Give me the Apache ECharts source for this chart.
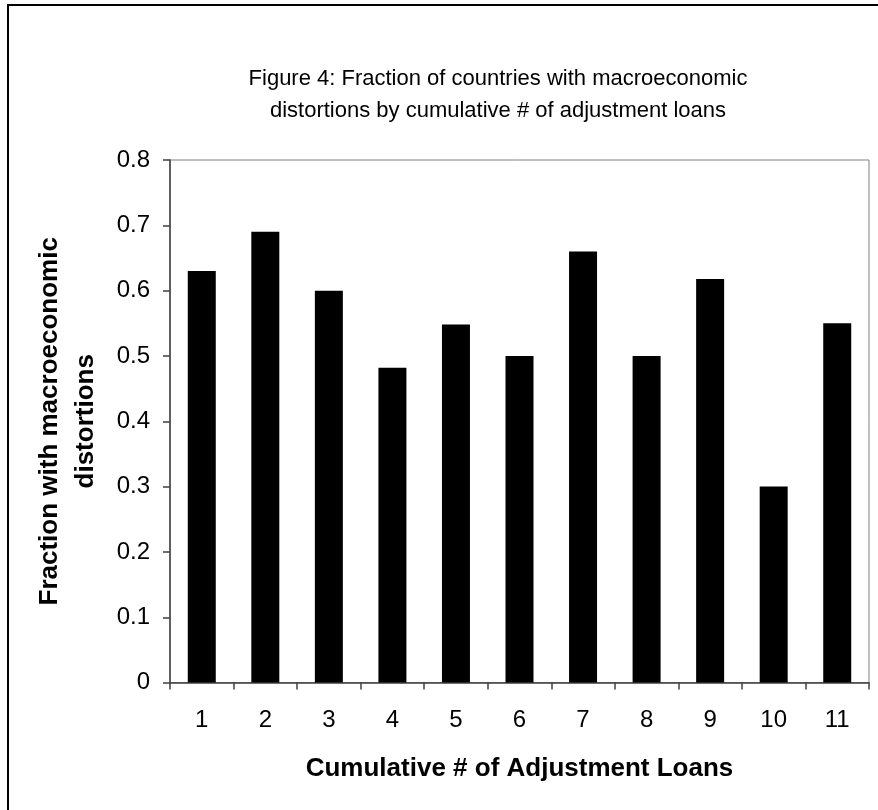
<!DOCTYPE html>
<html>
<head>
<meta charset="utf-8">
<script src="https://cdn.jsdelivr.net/npm/echarts@6/dist/echarts.min.js"></script>
<style>
html,body{margin:0;padding:0;background:#fff;}
#chart{width:878px;height:810px;}
</style>
</head>
<body>
<div id="chart"></div>
<script>
const categories = ['1','2','3','4','5','6','7','8','9','10','11'];
const fractionValues = [0.63, 0.69, 0.60, 0.482, 0.548, 0.50, 0.66, 0.50, 0.618, 0.30, 0.55];
const yTicks = [0, 0.1, 0.2, 0.3, 0.4, 0.5, 0.6, 0.7, 0.8];
const titleText = 'Figure 4: Fraction of countries with macroeconomic\ndistortions by cumulative # of adjustment loans';
const xName = 'Cumulative # of Adjustment Loans';
const yName = 'Fraction with macroeconomic\ndistortions';

const FONT = '"Liberation Sans", Arial, sans-serif';
const chart = echarts.init(document.getElementById('chart'), null, {renderer: 'canvas'});
chart.setOption({
  backgroundColor: '#fff',
  animation: false,
  title: {
    text: titleText,
    left: 493,
    top: 58,
    textAlign: 'center',
    textStyle: {fontFamily: FONT, fontSize: 22, fontWeight: 'normal', color: '#000', lineHeight: 32}
  },
  graphic: [{
    type: 'rect',
    shape: {x: 8, y: 5, width: 900, height: 900},
    style: {fill: 'none', stroke: '#000', lineWidth: 2},
    silent: true
  }],
  grid: {
    left: 170, top: 160, width: 699, height: 522.6,
    show: true, borderColor: '#808080', borderWidth: 1, backgroundColor: 'transparent'
  },
  xAxis: {
    type: 'category',
    data: categories,
    boundaryGap: true,
    name: xName,
    nameLocation: 'middle',
    nameGap: 73,
    nameTextStyle: {fontFamily: FONT, fontSize: 26, fontWeight: 'bold', color: '#000'},
    axisLine: {show: true, lineStyle: {color: '#404040', width: 1.5}},
    axisTick: {show: true, inside: false, length: 7, lineStyle: {color: '#404040', width: 1.5}},
    axisLabel: {fontFamily: FONT, fontSize: 24, color: '#000', margin: 26},
    splitLine: {show: false}
  },
  yAxis: {
    type: 'value',
    min: 0, max: 0.8, interval: 0.1,
    name: yName,
    nameLocation: 'middle',
    nameRotate: 90,
    nameGap: 66,
    nameTextStyle: {fontFamily: FONT, fontSize: 26, fontWeight: 'bold', color: '#000', lineHeight: 36},
    axisLine: {show: true, lineStyle: {color: '#404040', width: 1.5}},
    axisTick: {show: true, inside: false, length: 7, lineStyle: {color: '#404040', width: 1.5}},
    axisLabel: {
      fontFamily: FONT, fontSize: 24, color: '#000', margin: 20,
      formatter: function (v) {
        const t = yTicks.find(x => Math.abs(x - v) < 1e-9);
        return t === undefined ? '' : String(t);
      }
    },
    splitLine: {show: false}
  },
  series: [{
    type: 'bar',
    data: fractionValues,
    barWidth: 28,
    itemStyle: {color: '#000'},
    silent: true
  }]
});
</script>
</body>
</html>
